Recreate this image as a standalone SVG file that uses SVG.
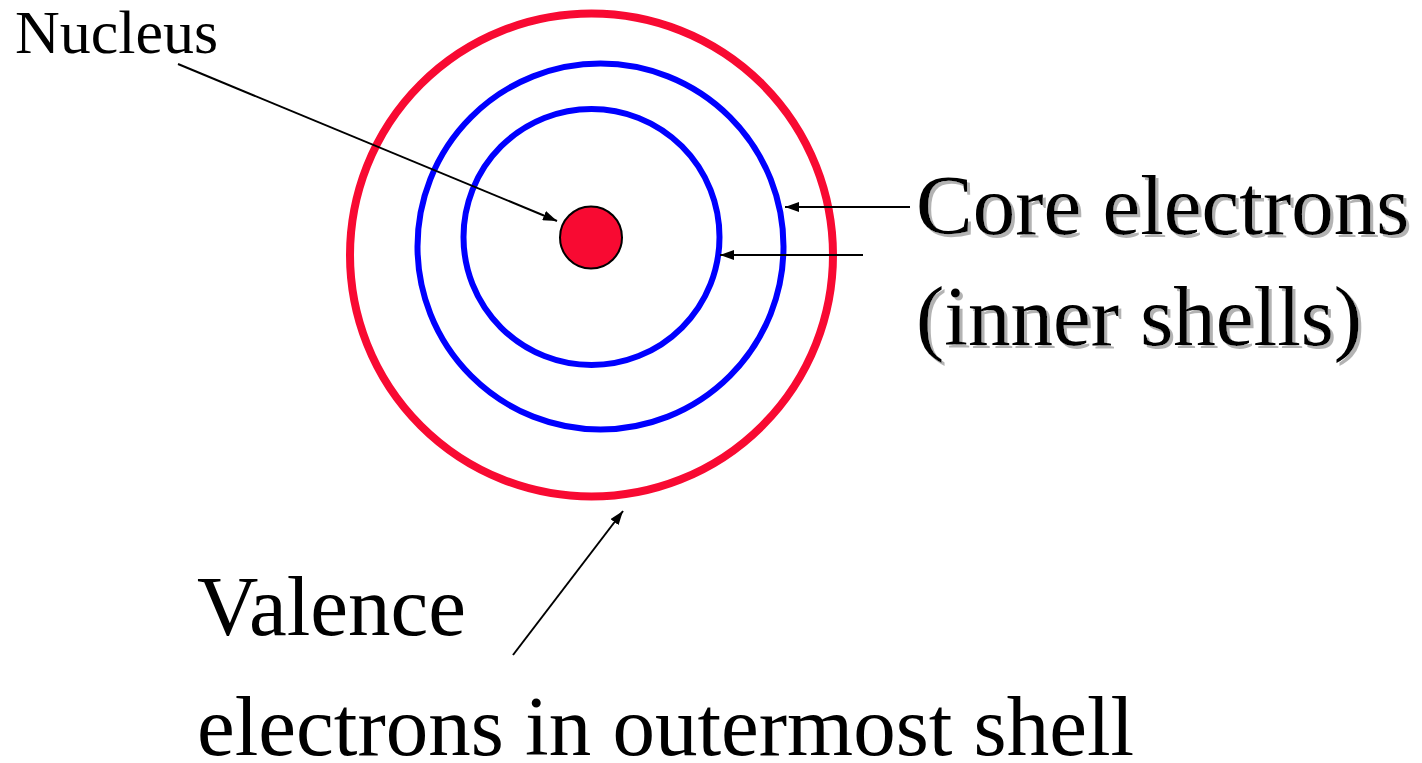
<svg xmlns="http://www.w3.org/2000/svg" width="1422" height="763" viewBox="0 0 1422 763">
<style>
.t{font-family:"Liberation Serif","Times New Roman",serif;fill:#000}
.c{stroke:#000;stroke-width:2;fill:none}
.blue{fill:none;stroke:#0000ff;stroke-width:6}
.red{fill:none;stroke:#f80a32;stroke-width:8}
</style>
<defs>
<marker id="ah" viewBox="0 0 14 10" refX="14" refY="5" markerWidth="14" markerHeight="10" markerUnits="userSpaceOnUse" orient="auto">
<path d="M0,0 L14,5 L0,10 z" fill="#000"/>
</marker>
<filter id="shadow" x="-5%" y="-20%" width="110%" height="140%">
<feOffset in="SourceAlpha" dx="3" dy="3" result="o"/>
<feFlood flood-color="#b3b3b3"/>
<feComposite in2="o" operator="in" result="s"/>
<feMerge><feMergeNode in="s"/><feMergeNode in="SourceGraphic"/></feMerge>
</filter>
</defs>
<rect width="1422" height="763" fill="#fff"/>
<g id="valence-shell"><circle cx="591.5" cy="255" r="241.5" class="red"/></g>
<g id="core-shell-2"><circle cx="600.5" cy="246.5" r="183" class="blue"/></g>
<g id="core-shell-1"><circle cx="591.5" cy="237" r="128" class="blue"/></g>
<g id="nucleus"><circle cx="591" cy="237.5" r="31" fill="#f80a32" stroke="#000" stroke-width="2"/></g>
<g id="connectors">
<line x1="178" y1="64" x2="557" y2="221" class="c" marker-end="url(#ah)"/>
<line x1="910" y1="207" x2="785" y2="207" class="c" marker-end="url(#ah)"/>
<line x1="863" y1="255" x2="720" y2="255" class="c" marker-end="url(#ah)"/>
<line x1="513" y1="655" x2="623" y2="511" class="c" marker-end="url(#ah)"/>
</g>
<g id="label-nucleus"><text x="15" y="53" class="t" font-size="62">Nucleus</text></g>
<g id="label-core" filter="url(#shadow)">
<text x="916" y="234" class="t" font-size="85">Core electrons</text>
<text x="916" y="345" class="t" font-size="85">(inner shells)</text>
</g>
<g id="label-valence">
<text x="197" y="635" class="t" font-size="85">Valence</text>
<text x="197" y="755" class="t" font-size="85">electrons in outermost shell</text>
</g>
</svg>
